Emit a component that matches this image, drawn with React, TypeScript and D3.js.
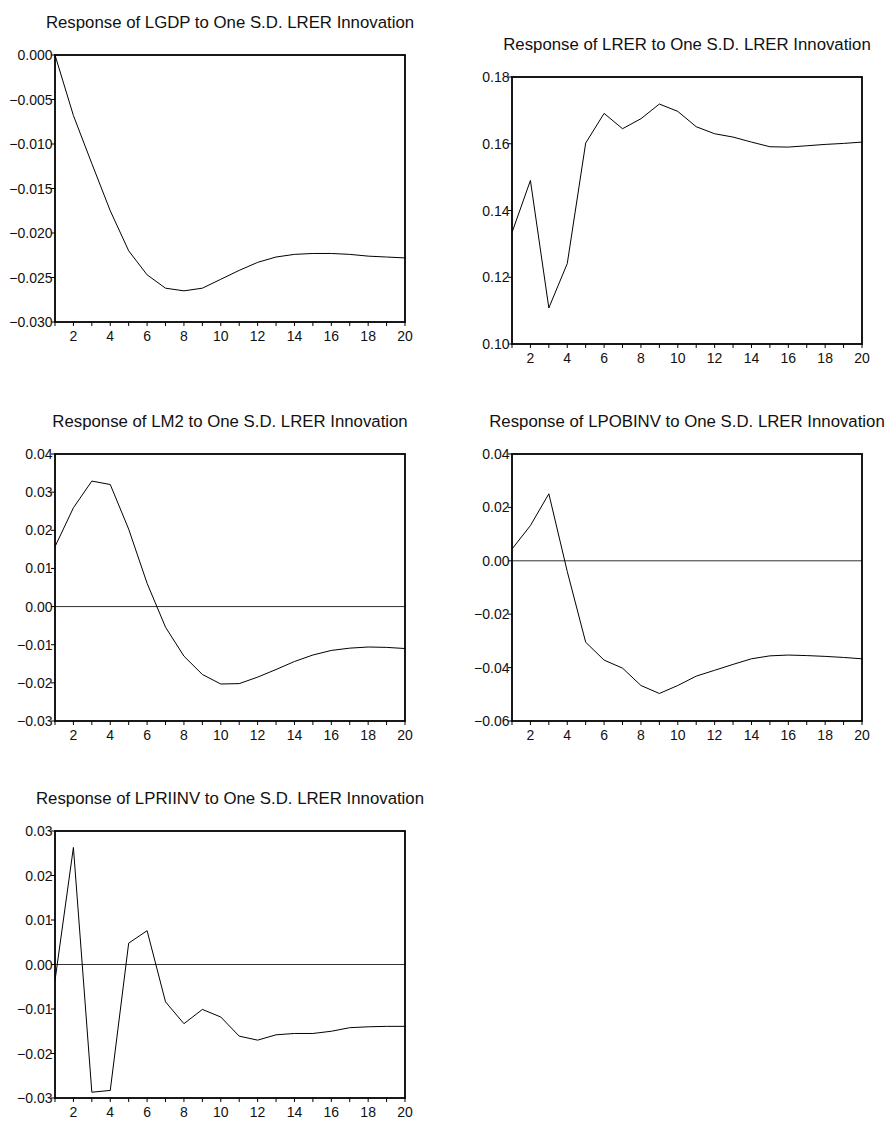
import React, { useEffect, useRef } from 'react';
import * as d3 from 'd3';

// Impulse responses to one S.D. LRER innovation, periods 1..20
const periods = d3.range(1, 21);

const lgdp = [0, -0.0068, -0.0122, -0.0175, -0.022, -0.0247, -0.0262, -0.0265, -0.0262, -0.0252,
  -0.0242, -0.0233, -0.0227, -0.0224, -0.0223, -0.0223, -0.0224, -0.0226, -0.0227, -0.0228];
const lrer = [0.1334, 0.149, 0.1108, 0.1241, 0.1602, 0.1691, 0.1645, 0.1675, 0.1719, 0.1697,
  0.1651, 0.163, 0.162, 0.1605, 0.1591, 0.159, 0.1594, 0.1598, 0.1601, 0.1605];
const lm2 = [0.0157, 0.0259, 0.0329, 0.032, 0.0203, 0.0061, -0.0054, -0.013, -0.0178, -0.0203,
  -0.0202, -0.0185, -0.0165, -0.0144, -0.0127, -0.0115, -0.0109, -0.0106, -0.0107, -0.011];
const lpobinv = [0.0044, 0.0132, 0.0251, -0.004, -0.0305, -0.0372, -0.0402, -0.0467, -0.0497, -0.0467,
  -0.0432, -0.041, -0.0388, -0.0367, -0.0356, -0.0353, -0.0355, -0.0358, -0.0362, -0.0367];
const lpriinv = [-0.0036, 0.0263, -0.0287, -0.0283, 0.0048, 0.0076, -0.0084, -0.0133, -0.0101, -0.0118,
  -0.0161, -0.017, -0.0158, -0.0155, -0.0155, -0.015, -0.0142, -0.014, -0.0139, -0.0139];

const titles = [
  'Response of LGDP to One S.D. LRER Innovation',
  'Response of LRER to One S.D. LRER Innovation',
  'Response of LM2 to One S.D. LRER Innovation',
  'Response of LPOBINV to One S.D. LRER Innovation',
  'Response of LPRIINV to One S.D. LRER Innovation',
];

// y-axis ranges, tick steps and label formats
const yDomains: [number, number][] = [[-0.03, 0], [0.1, 0.18], [-0.03, 0.04], [-0.06, 0.04], [-0.03, 0.03]];
const ySteps = [0.005, 0.02, 0.01, 0.02, 0.01];
const yFormats = ['.3f', '.2f', '.2f', '.2f', '.2f'];
const xTickLabels = d3.range(2, 21, 2);

const series = [lgdp, lrer, lm2, lpobinv, lpriinv];

// panel boxes (left, top)
const layout = [
  { x: 55, y: 55 },
  { x: 512, y: 77 },
  { x: 55, y: 454 },
  { x: 512, y: 454 },
  { x: 55, y: 831 },
];
const W = 350;
const H = 267;

const font = '"Liberation Sans", Arial, sans-serif';

const App = () => {
  const ref = useRef<SVGSVGElement>(null);

  useEffect(() => {
    const svg = d3.select(ref.current);
    svg.selectAll('*').remove();

    series.forEach((vals, i) => {
      const { x: left, y: top } = layout[i];
      const g = svg.append('g').attr('transform', `translate(${left},${top})`);

      const x = d3.scaleLinear().domain([1, 20]).range([0, W]);
      const y = d3.scaleLinear().domain(yDomains[i]).range([H, 0]);
      const [lo, hi] = yDomains[i];
      const n = Math.round((hi - lo) / ySteps[i]);
      const yTicks = d3.range(0, n + 1).map(k => lo + k * ySteps[i]);
      const fmt = d3.format(yFormats[i]);

      // title
      g.append('text')
        .attr('x', W / 2)
        .attr('y', -27)
        .attr('text-anchor', 'middle')
        .style('font-family', font)
        .style('font-size', '16.8px')
        .attr('fill', '#111')
        .text(titles[i]);

      // zero line
      if (lo < 0 && hi > 0) {
        g.append('line')
          .attr('x1', 0).attr('x2', W)
          .attr('y1', y(0)).attr('y2', y(0))
          .attr('stroke', '#333')
          .attr('stroke-width', 1);
      }

      // response line
      const line = d3.line<number>()
        .x((_, k) => x(periods[k]))
        .y(d => y(d));
      g.append('path')
        .datum(vals)
        .attr('d', line)
        .attr('fill', 'none')
        .attr('stroke', '#000')
        .attr('stroke-width', 1);

      // frame
      g.append('rect')
        .attr('width', W).attr('height', H)
        .attr('fill', 'none')
        .attr('stroke', '#000')
        .attr('stroke-width', 1.8);

      // y ticks
      yTicks.forEach(t => {
        g.append('line')
          .attr('x1', -4).attr('x2', 0)
          .attr('y1', y(t)).attr('y2', y(t))
          .attr('stroke', '#000');
        g.append('text')
          .attr('x', -2.5)
          .attr('y', y(t))
          .attr('dy', '0.36em')
          .attr('text-anchor', 'end')
          .style('font-family', font)
          .style('font-size', '14px')
          .attr('fill', '#111')
          .text(fmt(Math.abs(t) < 1e-9 ? 0 : t));
      });

      // x ticks
      periods.forEach(p => {
        g.append('line')
          .attr('x1', x(p)).attr('x2', x(p))
          .attr('y1', H).attr('y2', H + 4)
          .attr('stroke', '#000');
      });
      xTickLabels.forEach(p => {
        g.append('text')
          .attr('x', x(p))
          .attr('y', H + 19)
          .attr('text-anchor', 'middle')
          .style('font-family', font)
          .style('font-size', '14px')
          .attr('fill', '#111')
          .text(p);
      });
    });
  }, []);

  return (
    <svg
      ref={ref}
      width={893}
      height={1124}
      style={{ position: 'absolute', left: 0, top: 0, background: '#fff' }}
    />
  );
};

export default App;
